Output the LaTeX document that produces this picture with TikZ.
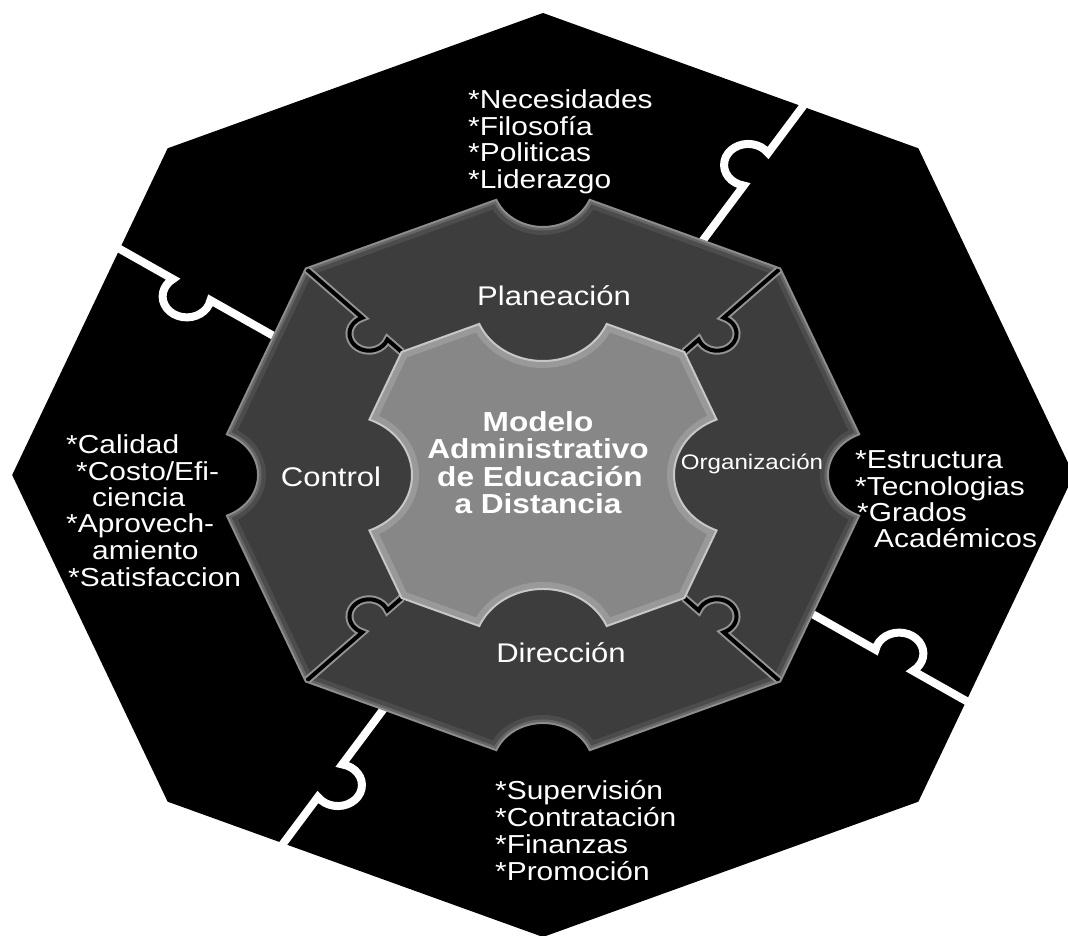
\documentclass[tikz,border=0pt]{standalone}
\usepackage{fontspec}
\setmainfont{Liberation Sans}[FakeStretch=1.15]
\newcommand{\notchoct}[2]{(315:#1) -- ([shift={(-112.5:#2)}]0:#1) arc[start angle=-112.5, end angle=-247.5, radius=#2] -- (45:#1) -- ([shift={(-22.5:#2)}]90:#1) arc[start angle=-22.5, end angle=-157.5, radius=#2] -- (135:#1) -- ([shift={(67.5:#2)}]180:#1) arc[start angle=67.5, end angle=-67.5, radius=#2] -- (225:#1) -- ([shift={(157.5:#2)}]270:#1) arc[start angle=157.5, end angle=22.5, radius=#2] -- cycle}
\begin{document}
\begin{tikzpicture}[x=1pt,y=1pt,
  listtxt/.style={text=white, font=\fontsize{26}{26}\selectfont, inner sep=0pt, anchor=base west},
  lbl/.style={text=white, font=\fontsize{27}{27}\selectfont, inner sep=0pt, anchor=base},
  ctrtxt/.style={text=white, font=\bfseries\fontsize{27.5}{27.5}\selectfont, inner sep=0pt, anchor=base},
  outersep/.style={white, line width=8pt},
  midedge/.style={black!42, line width=8pt},
  midgap/.style={black, line width=4pt}]
\useasboundingbox (0,0) rectangle (1068,936);
\fill[white] (0,0) rectangle (1068,936);
\begin{scope}[shift={(543,461)}, xscale=1.149]
  % outer ring
  \fill[black] (90:462) -- (135:462) -- (180:462) -- (225:462) -- (270:462) -- (315:462) -- (0:462) -- (45:462) -- cycle;
  % white puzzle separators of the outer ring
  \foreach \a in {0,90,180,270} {
    \begin{scope}[rotate=\a]
      \begin{scope}[shift={(139,234.4)}, rotate=57]
        \draw[outersep] (-20,0) -- (65.6,0) arc[start angle=202.4, end angle=-22.4, radius=21] -- (185,0);
      \end{scope}
    \end{scope}
  }
  % middle ring with lighter inner edge band
  \fill[black!76] \notchoct{292}{44};
  \begin{scope}
    \clip \notchoct{292}{44};
    \draw[black!70, line width=16pt] \notchoct{292}{44};
    \draw[black!60, line width=7pt] \notchoct{292}{44};
    \foreach \a/\s in {45/1, 135/-1, 225/1, 315/-1} {
      \begin{scope}[rotate=\a]
        \begin{scope}[shift={(292,0)}, rotate=180, yscale=\s]
          \draw[midedge] (0,0) -- (69.6,0) arc[start angle=205, end angle=-25, radius=17] -- (118,0);
          \draw[midgap] (0,0) -- (69.6,0) arc[start angle=205, end angle=-25, radius=17] -- (118,0);
        \end{scope}
      \end{scope}
    }
  \end{scope}
  \draw[black!45, line width=2pt] \notchoct{292}{44};
  % central piece
  \fill[black!47] \notchoct{174}{60};
  \begin{scope}
    \clip \notchoct{174}{60};
    \draw[black!40, line width=14pt] \notchoct{174}{60};
  \end{scope}
  \draw[black!22, line width=2pt] \notchoct{174}{60};
\end{scope}
% outer lists
\node[listtxt] (n1) at (468,{936-109}) {*Necesidades};
\node[listtxt] (n2) at (468,{936-136}) {*Filosofía};
\node[listtxt] (n3) at (468,{936-162}) {*Politicas};
\node[listtxt] (n4) at (468,{936-189}) {*Liderazgo};
\node[listtxt] (e1) at (855,{936-469}) {*Estructura};
\node[listtxt] (e2) at (855,{936-496}) {*Tecnologias};
\node[listtxt] (e3) at (857,{936-522}) {*Grados};
\node[listtxt] (e4) at (874,{936-548}) {Académicos};
\node[listtxt] (c1) at (66,{936-454}) {*Calidad};
\node[listtxt] (c2) at (76,{936-481}) {*Costo/Efi-};
\node[listtxt] (c3) at (92,{936-507}) {ciencia};
\node[listtxt] (c4) at (66,{936-533}) {*Aprovech-};
\node[listtxt] (c5) at (92,{936-560}) {amiento};
\node[listtxt] (c6) at (68,{936-587}) {*Satisfaccion};
\node[listtxt] (s1) at (495,{936-800}) {*Supervisión};
\node[listtxt] (s2) at (495,{936-827}) {*Contratación};
\node[listtxt] (s3) at (495,{936-854}) {*Finanzas};
\node[listtxt] (s4) at (495,{936-881}) {*Promoción};
% ring labels
\node[lbl] (plan) at (554,{936-306}) {Planeación};
\node[lbl] (ctrl) at (331,{936-487}) {Control};
\node[lbl, font=\fontsize{21}{21}\selectfont] (org) at (752,{936-470}) {Organización};
\node[lbl] (dir) at (561,{936-663}) {Dirección};
% central text
\node[ctrtxt] (m1) at (538,{936-432}) {Modelo};
\node[ctrtxt] (m2) at (538,{936-459}) {Administrativo};
\node[ctrtxt] (m3) at (540,{936-487}) {de Educación};
\node[ctrtxt] (m4) at (538,{936-514}) {a Distancia};
\end{tikzpicture}
\end{document}
